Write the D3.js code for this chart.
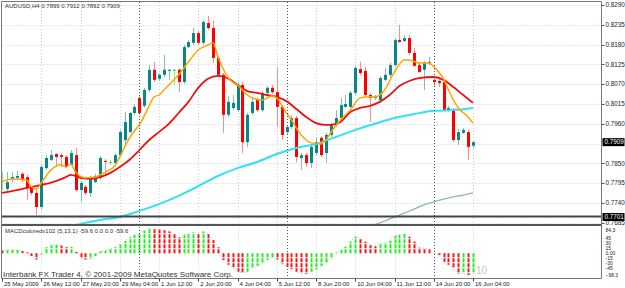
<!DOCTYPE html>
<html><head><meta charset="utf-8">
<script src="https://cdn.jsdelivr.net/npm/d3@7"></script>
<style>html,body{margin:0;padding:0;background:#fff;}svg{display:block;}</style>
</head><body>
<svg id="c" width="625" height="288"></svg>
<script>
// ---------- data ----------
const symbolTitle = "AUDUSD,H4  0.7899 0.7912 0.7892 0.7909";
const macdTitle = "MACDcoloredv102 (5,13,1) -59.6 0.0 0.0 -59.6";
const footer = "Interbank FX Trader 4, \u00A9 2001-2009 MetaQuotes Software Corp.";

const open  = [0.7801,0.7779,0.7807,0.7810,0.7821,0.7812,0.7782,0.7768,0.7729,0.7837,0.7860,0.7876,0.7873,0.7868,0.7846,0.7873,0.7776,0.7785,0.7768,0.7798,0.7810,0.7857,0.7854,0.7851,0.7873,0.7915,0.7937,0.7990,0.8032,0.8010,0.8054,0.8110,0.8085,0.8096,0.8107,0.8110,0.8110,0.8076,0.8173,0.8185,0.8212,0.8185,0.8240,0.8226,0.8143,0.8096,0.7985,0.8004,0.7998,0.8068,0.7909,0.7990,0.8026,0.7998,0.8046,0.8060,0.8048,0.8007,0.7937,0.7951,0.7976,0.7865,0.7873,0.7851,0.7879,0.7921,0.7879,0.7929,0.7957,0.7976,0.8007,0.8007,0.8046,0.8112,0.8107,0.8040,0.8032,0.8026,0.8082,0.8096,0.8123,0.8193,0.8190,0.8198,0.8157,0.8123,0.8110,0.8129,0.8082,0.8079,0.8076,0.7998,0.7998,0.7915,0.7935,0.7937,0.7899];
const high  = [0.7826,0.7826,0.7826,0.7829,0.7826,0.7818,0.7787,0.7776,0.7846,0.7873,0.7887,0.7879,0.7879,0.7873,0.7887,0.7893,0.7801,0.7790,0.7815,0.7821,0.7871,0.7862,0.7860,0.7879,0.7943,0.7993,0.7993,0.8015,0.8037,0.8060,0.8123,0.8132,0.8101,0.8151,0.8112,0.8112,0.8115,0.8179,0.8193,0.8226,0.8218,0.8248,0.8260,0.8248,0.8149,0.8101,0.8037,0.8040,0.8076,0.8076,0.7990,0.8035,0.8032,0.8051,0.8065,0.8068,0.8118,0.8012,0.7957,0.7985,0.7982,0.7879,0.7879,0.7901,0.7923,0.7926,0.7935,0.7962,0.7998,0.8032,0.8040,0.8051,0.8121,0.8132,0.8118,0.8046,0.8040,0.8093,0.8115,0.8129,0.8198,0.8235,0.8207,0.8207,0.8171,0.8129,0.8135,0.8146,0.8087,0.8085,0.8082,0.8010,0.8004,0.7946,0.7948,0.7943,0.7912];
const low   = [0.7776,0.7771,0.7798,0.7804,0.7798,0.7748,0.7762,0.7707,0.7723,0.7832,0.7857,0.7840,0.7840,0.7837,0.7843,0.7771,0.7743,0.7762,0.7757,0.7796,0.7804,0.7818,0.7846,0.7846,0.7868,0.7896,0.7935,0.7985,0.7985,0.8004,0.8048,0.8076,0.8079,0.8090,0.8082,0.8068,0.8048,0.8071,0.8171,0.8179,0.8179,0.8179,0.8221,0.8129,0.8090,0.7935,0.7979,0.7998,0.7993,0.7879,0.7896,0.7985,0.7993,0.7993,0.8040,0.8043,0.7951,0.7915,0.7932,0.7946,0.7854,0.7832,0.7840,0.7837,0.7873,0.7868,0.7851,0.7923,0.7951,0.7971,0.8004,0.8004,0.8040,0.8096,0.8035,0.7965,0.8026,0.8021,0.8079,0.8090,0.8118,0.8185,0.8187,0.8151,0.8118,0.8101,0.8054,0.8123,0.8062,0.8062,0.7993,0.7993,0.7909,0.7901,0.7932,0.7860,0.7892];
const close = [0.7801,0.7798,0.7812,0.7815,0.7807,0.7782,0.7768,0.7729,0.7840,0.7865,0.7873,0.7868,0.7868,0.7840,0.7879,0.7776,0.7796,0.7768,0.7810,0.7815,0.7865,0.7854,0.7854,0.7873,0.7937,0.7965,0.7990,0.8007,0.7990,0.8054,0.8110,0.8082,0.8096,0.8110,0.8110,0.8110,0.8076,0.8173,0.8187,0.8212,0.8185,0.8243,0.8226,0.8143,0.8096,0.7985,0.8021,0.8018,0.8068,0.7909,0.7985,0.8021,0.7998,0.8046,0.8060,0.8048,0.8007,0.7929,0.7951,0.7976,0.7868,0.7873,0.7851,0.7896,0.7909,0.7873,0.7929,0.7957,0.7976,0.8012,0.8015,0.8046,0.8115,0.8101,0.8040,0.8032,0.8035,0.8087,0.8096,0.8123,0.8193,0.8187,0.8198,0.8157,0.8121,0.8104,0.8129,0.8132,0.8076,0.8073,0.7998,0.8004,0.7915,0.7937,0.7943,0.7896,0.7909];

// moving averages: [bar index, price]
const fastMA = [[0,0.7799],[2,0.7807],[5,0.7804],[6,0.7785],[7,0.7779],[8,0.7796],[10,0.7832],[12,0.7846],[13,0.7840],[14,0.7848],[15,0.7826],[17,0.7810],[19,0.7812],[21,0.7826],[23,0.7843],[24,0.7868],[26,0.7921],[27,0.7940],[28,0.7957],[30,0.8010],[31,0.8035],[32,0.8040],[33,0.8054],[34,0.8068],[36,0.8096],[38,0.8132],[40,0.8165],[42,0.8179],[43,0.8185],[44,0.8146],[45,0.8115],[46,0.8090],[47,0.8076],[48,0.8068],[50,0.8040],[51,0.8032],[53,0.8026],[55,0.8037],[56,0.8032],[57,0.8012],[58,0.7990],[59,0.7971],[60,0.7948],[61,0.7929],[62,0.7915],[63,0.7907],[65,0.7904],[66,0.7915],[67,0.7935],[69,0.7971],[71,0.7998],[73,0.8032],[75,0.8035],[76,0.8035],[78,0.8054],[80,0.8104],[82,0.8137],[83,0.8137],[85,0.8129],[87,0.8129],[88,0.8118],[90,0.8085],[91,0.8054],[93,0.8004],[95,0.7979],[96,0.7962]];
const midMA = [[0,0.7768],[3,0.7776],[6,0.7785],[8,0.7790],[11,0.7801],[13,0.7812],[14,0.7818],[16,0.7810],[18,0.7807],[20,0.7812],[22,0.7823],[24,0.7840],[26,0.7860],[28,0.7887],[30,0.7915],[32,0.7937],[34,0.7960],[36,0.7990],[38,0.8021],[40,0.8060],[42,0.8085],[44,0.8093],[46,0.8087],[48,0.8068],[50,0.8051],[52,0.8046],[54,0.8040],[56,0.8035],[58,0.8023],[60,0.8001],[62,0.7979],[64,0.7962],[66,0.7957],[67,0.7957],[69,0.7965],[71,0.7993],[73,0.8004],[75,0.8010],[77,0.8021],[79,0.8040],[81,0.8065],[83,0.8079],[85,0.8087],[88,0.8090],[90,0.8082],[92,0.8062],[94,0.8040],[96,0.8018]];
const slowMA = [[12,0.7668],[16,0.7682],[20,0.7693],[24,0.7701],[28,0.7718],[32,0.7737],[36,0.7760],[40,0.7787],[44,0.7815],[48,0.7837],[52,0.7854],[56,0.7876],[60,0.7893],[64,0.7904],[68,0.7923],[72,0.7943],[76,0.7960],[80,0.7976],[84,0.7987],[88,0.7996],[92,0.7998],[96,0.8004]];
const slowestMA = [[74,0.7671],[76,0.7680],[78,0.7690],[80,0.7701],[82,0.7712],[84,0.7723],[86,0.7735],[88,0.7743],[90,0.7751],[92,0.7757],[94,0.7762],[96,0.7768]];

const macd = [8,10,10,10,7,3,-8,-18,-3,18,24,25,23,18,19,4,-12,-18,-16,-8,5,8,12,18,26,36,47,54,59,66,74,71,70,68,64,57,47,54,59,61,59,64,59,39,18,-20,-34,-41,-54,-57,-54,-44,-37,-29,-20,-12,-18,-31,-39,-47,-54,-59,-61,-54,-47,-37,-28,-15,2,10,19,34,49,44,34,24,21,29,31,37,51,54,57,49,35,16,15,12,1,-5,-25,-34,-44,-60,-58,-64,-59.6];
const macdBefore = 9;

const priceTicks = [0.8290,0.8235,0.8180,0.8125,0.8070,0.8015,0.7960,0.7905,0.7850,0.7795,0.7740,0.7685];
const bidPrice = 0.7909;
const hLinePrice = 0.7701;
const timeTickBars = [0,8,16,24,32,40,48,56,64,72,80,88,96];
const timeLabels = ["25 May 2009","26 May 12:00","27 May 20:00","29 May 04:00","1 Jun 12:00","2 Jun 20:00","4 Jun 04:00","5 Jun 12:00","8 Jun 20:00","10 Jun 04:00","11 Jun 12:00","14 Jun 20:00","16 Jun 04:00"];
const weekStartBars = [28,58,88];
const macdTicks = [45,30,15,0,-15,-30,-45];
const macdTickLabels = ["45","30","15","0.00","-15","-30","-45"];
const macdMax = 84.3, macdMin = -98.3;

// ---------- layout ----------
const L = 1.5, R = 601.5, mainTop = 2, mainBot = 224, macdTop = 226.5, macdBot = 278.5;
const svg = d3.select("#c");
const font = "'Liberation Sans', Arial, sans-serif";

const x = d3.scaleLinear().domain([0, 96]).range([2, 473]);
const y = d3.scaleLinear().domain([0.7740, 0.8290]).range([203, 5]);
const ym = d3.scaleLinear().domain([-45, 45]).range([268.6, 238]);

svg.append("rect").attr("width",625).attr("height",288).attr("fill","#fff");

const defs = svg.append("defs");
defs.append("clipPath").attr("id","mainClip").append("rect")
  .attr("x",L).attr("y",mainTop).attr("width",R-L).attr("height",mainBot-mainTop);
defs.append("clipPath").attr("id","macdClip").append("rect")
  .attr("x",L).attr("y",macdTop).attr("width",R-L).attr("height",macdBot-macdTop);

const gridCol = "#c9d2e0";
const gMain = svg.append("g").attr("clip-path","url(#mainClip)");
gMain.selectAll(".hg").data(priceTicks).join("line")
  .attr("x1",L).attr("x2",R).attr("y1",d=>Math.round(y(d))+0.5).attr("y2",d=>Math.round(y(d))+0.5)
  .attr("stroke",gridCol).attr("stroke-dasharray","1,2");
gMain.selectAll(".vg").data(timeTickBars.slice(1)).join("line")
  .attr("x1",d=>Math.round(x(d))+0.5).attr("x2",d=>Math.round(x(d))+0.5).attr("y1",mainTop).attr("y2",mainBot)
  .attr("stroke",gridCol).attr("stroke-dasharray","1,2");

const gMacd = svg.append("g").attr("clip-path","url(#macdClip)");
gMacd.selectAll(".vg").data(timeTickBars.slice(1)).join("line")
  .attr("x1",d=>Math.round(x(d))+0.5).attr("x2",d=>Math.round(x(d))+0.5).attr("y1",macdTop).attr("y2",macdBot)
  .attr("stroke",gridCol).attr("stroke-dasharray","1,2");

// period separators
svg.selectAll(".sep").data(weekStartBars).join("line")
  .attr("x1",d=>Math.round(x(d))+0.5).attr("x2",d=>Math.round(x(d))+0.5)
  .attr("y1",mainTop).attr("y2",macdBot)
  .attr("stroke","#555").attr("stroke-dasharray","1,2");

// candles
const bars = d3.range(open.length).map(i=>({i,o:open[i],h:high[i],l:low[i],c:close[i]}));
const bull = "#0b8686", bear = "#ff0000", doji = "#33dd33";
const colOf = d => d.c > d.o ? bull : (d.c < d.o ? bear : doji);
const wickOf = d => d.c > d.o ? "#7cc0c0" : (d.c < d.o ? "#ff8a8a" : "#88ee88");
const gc = gMain.append("g");
gc.selectAll(".wick").data(bars).join("line")
  .attr("x1",d=>Math.round(x(d.i))+0.5).attr("x2",d=>Math.round(x(d.i))+0.5)
  .attr("y1",d=>y(d.h)).attr("y2",d=>y(d.l))
  .attr("stroke",wickOf).attr("stroke-width",1);
gc.selectAll(".body").data(bars).join("rect")
  .attr("x",d=>Math.round(x(d.i))-1).attr("width",3)
  .attr("y",d=>y(Math.max(d.o,d.c)))
  .attr("height",d=>Math.max(1,Math.abs(y(d.o)-y(d.c))))
  .attr("fill",colOf);

// moving averages
const lineGen = d3.line().x(d=>x(d[0])).y(d=>y(d[1])).curve(d3.curveMonotoneX);
[[slowestMA,"#8fbc8f",1.3],[slowMA,"#2fe3f0",2],[midMA,"#ee1111",1.8],[fastMA,"#ffa500",1.5]].forEach(([data,col,w])=>{
  gMain.append("path").attr("d",lineGen(data)).attr("fill","none").attr("stroke",col).attr("stroke-width",w);
});

// horizontal line object
svg.append("line").attr("x1",L).attr("x2",R).attr("y1",y(hLinePrice)-0.5).attr("y2",y(hLinePrice)-0.5)
  .attr("stroke","#444").attr("stroke-width",2);
// window separator
svg.append("line").attr("x1",L).attr("x2",R).attr("y1",225).attr("y2",225)
  .attr("stroke","#555").attr("stroke-width",2.2);

// MACD histogram
const mData = macd.map((v,i)=>({i,v,up: v >= (i===0?macdBefore:macd[i-1])}));
gMacd.selectAll(".mb").data(mData).join("line")
  .attr("x1",d=>Math.round(x(d.i))+0.5).attr("x2",d=>Math.round(x(d.i))+0.5)
  .attr("y1",ym(0)).attr("y2",d=>ym(d.v))
  .attr("stroke",d=>d.up?"#22ee22":"#ff1111").attr("stroke-width",2)
  .attr("stroke-dasharray","4,1");
gMacd.append("path")
  .attr("d",d3.line().x(d=>x(d.i)).y(d=>ym(d.v))(mData))
  .attr("fill","none").attr("stroke","#aaa").attr("stroke-width",0.8).attr("stroke-dasharray","1,2");

// frame
svg.append("line").attr("x1",L).attr("x2",R).attr("y1",1.5).attr("y2",1.5).attr("stroke","#777");
svg.append("line").attr("x1",L).attr("x2",L).attr("y1",1.5).attr("y2",macdBot).attr("stroke","#777");
svg.append("line").attr("x1",R).attr("x2",R).attr("y1",1.5).attr("y2",macdBot).attr("stroke","#777");
svg.append("line").attr("x1",L).attr("x2",R).attr("y1",macdBot).attr("y2",macdBot).attr("stroke","#777");

// price axis
const pa = svg.append("g");
const shownTicks = priceTicks.filter(p=>Math.abs(y(p)-y(bidPrice))>5);
pa.selectAll("line").data(shownTicks).join("line")
  .attr("x1",R).attr("x2",R+3).attr("y1",d=>Math.round(y(d))+0.5).attr("y2",d=>Math.round(y(d))+0.5).attr("stroke","#555");
pa.selectAll("text").data(shownTicks).join("text")
  .attr("x",R+4).attr("y",d=>y(d)).attr("dy","0.35em")
  .attr("font-family",font).attr("font-size",6.3).attr("fill","#222")
  .text(d=>d3.format(".4f")(d));
[[bidPrice],[hLinePrice]].forEach(([p])=>{
  pa.append("rect").attr("x",R+1).attr("y",y(p)-4).attr("width",22).attr("height",8).attr("fill","#000");
  pa.append("text").attr("x",R+3).attr("y",y(p)).attr("dy","0.35em")
    .attr("font-family",font).attr("font-size",6.3).attr("fill","#fff").text(d3.format(".4f")(p));
});

// MACD axis
const ma = svg.append("g");
ma.selectAll("text").data(macdTicks).join("text")
  .attr("x",R+4).attr("y",d=>ym(d)).attr("dy","0.33em")
  .attr("font-family",font).attr("font-size",5).attr("fill","#222")
  .text((d,i)=>macdTickLabels[i]);
ma.append("text").attr("x",R+4).attr("y",macdTop+3.5).attr("dy","0.35em")
  .attr("font-family",font).attr("font-size",5).attr("fill","#222").text(d3.format(".1f")(macdMax));
ma.append("text").attr("x",R+4).attr("y",macdBot-3.2).attr("dy","0.35em")
  .attr("font-family",font).attr("font-size",5).attr("fill","#222").text(d3.format(".1f")(macdMin));

// time axis
const ta = svg.append("g");
ta.selectAll("line").data(timeTickBars).join("line")
  .attr("x1",d=>Math.round(x(d))+0.5).attr("x2",d=>Math.round(x(d))+0.5)
  .attr("y1",macdBot).attr("y2",macdBot+3).attr("stroke","#444");
ta.selectAll("text").data(timeTickBars).join("text")
  .attr("x",d=>x(d)+2).attr("y",284).attr("dy","0.35em")
  .attr("font-family",font).attr("font-size",6).attr("fill","#222")
  .text((d,i)=>timeLabels[i]);

// titles
svg.append("text").attr("x",5).attr("y",6).attr("dy","0.35em")
  .attr("font-family",font).attr("font-size",6).attr("fill","#333").text(symbolTitle);
svg.append("text").attr("x",5).attr("y",230.5).attr("dy","0.35em")
  .attr("font-family",font).attr("font-size",6).attr("fill","#333").text(macdTitle);
svg.append("text").attr("x",3).attr("y",274.5).attr("dy","0.35em")
  .attr("font-family",font).attr("font-size",8).attr("fill","#333").text(footer);
svg.append("text").attr("x",x(96)+3).attr("y",270).attr("dy","0.35em")
  .attr("font-family",font).attr("font-size",10).attr("fill","#c4c4c4").text("10");
</script>
</body></html>
